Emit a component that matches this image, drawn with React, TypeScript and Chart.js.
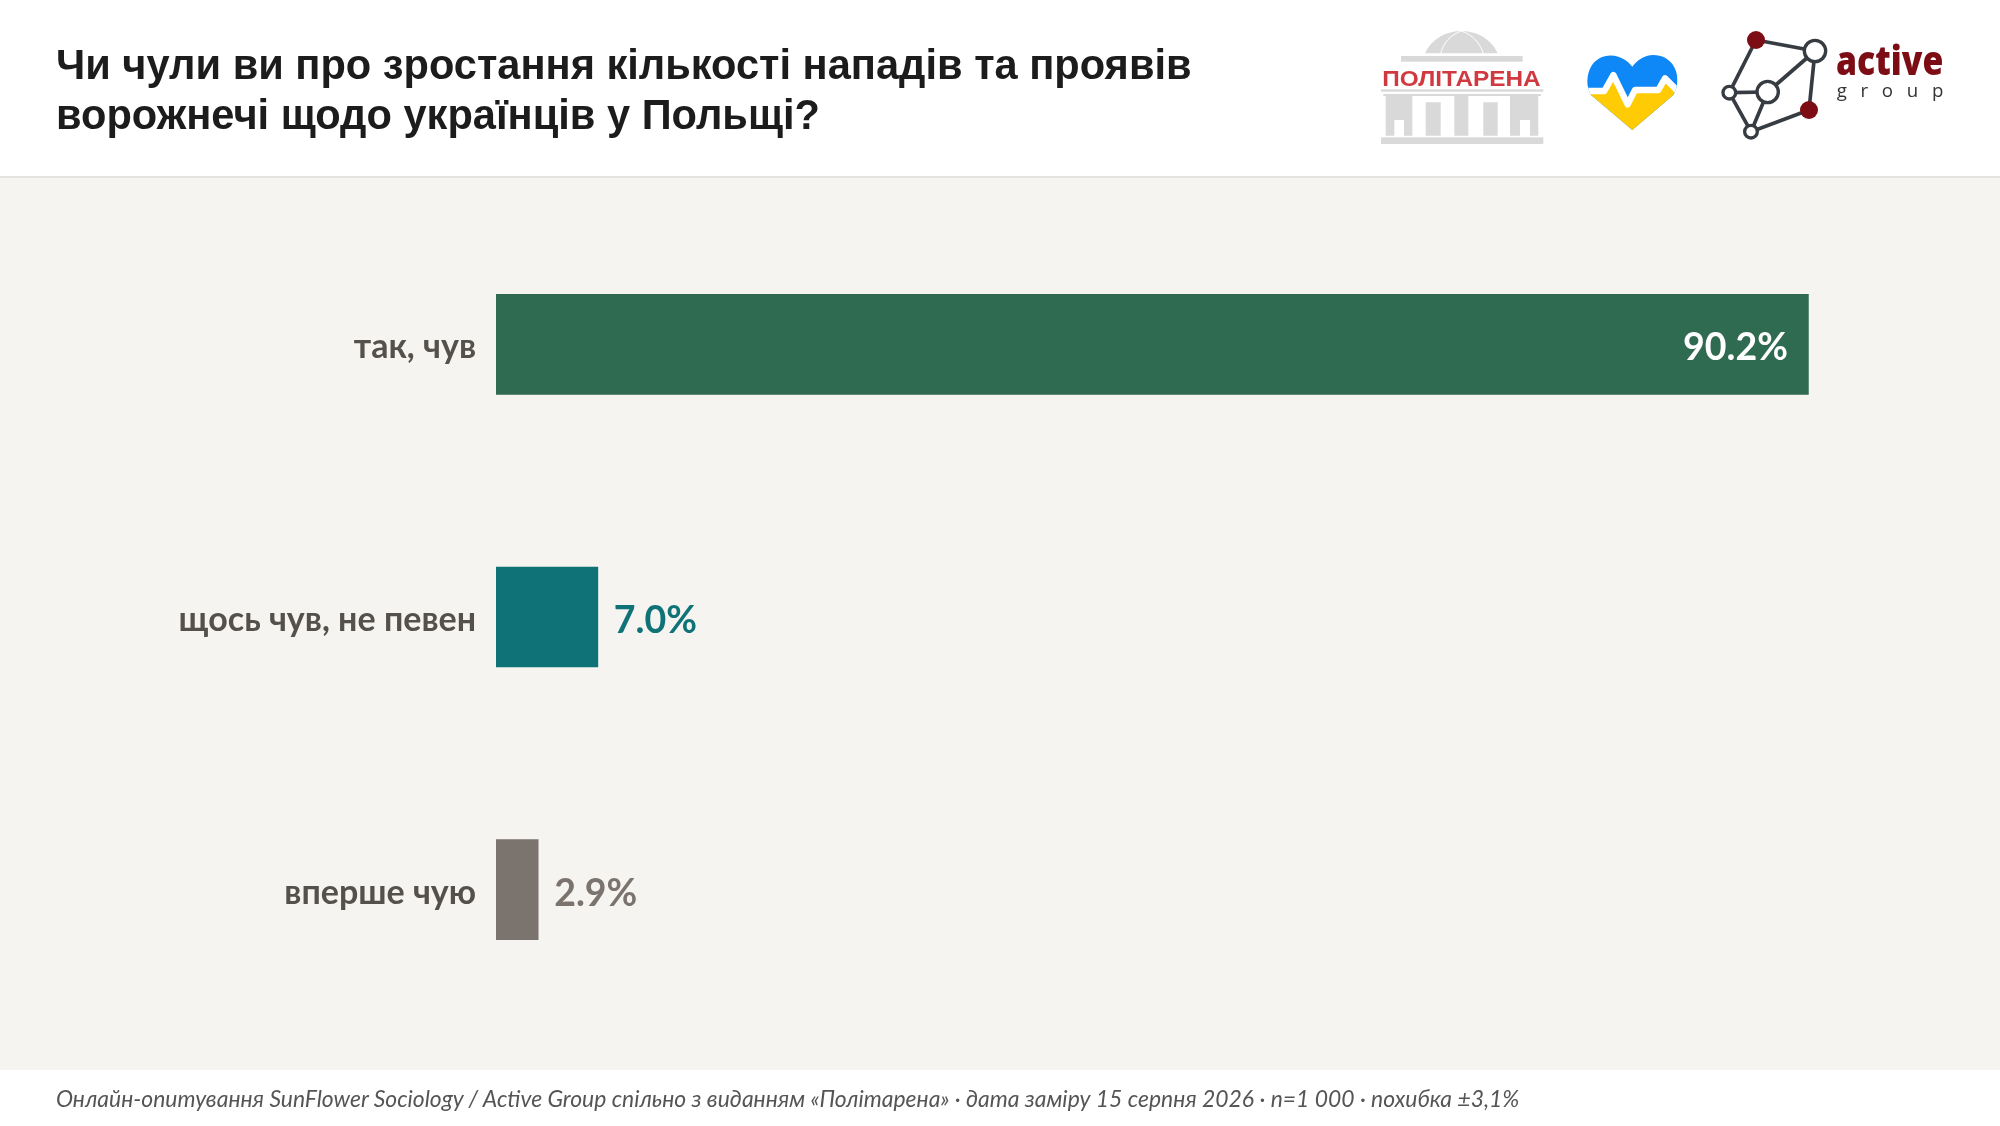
import React, { useEffect, useRef } from "react";
import { Chart, registerables } from "chart.js";

Chart.register(...registerables);

const categories = ["так, чув", "щось чув, не певен", "вперше чую"];
const values = [90.2, 7.0, 2.9];
const barColors = ["#2F6B50", "#0F7276", "#7B736D"];
const valueLabelColors = ["#FFFFFF", "#0F7276", "#7B736D"];
const titleLines = [
  "Чи чули ви про зростання кількості нападів та проявів",
  "ворожнечі щодо українців у Польщі?",
];
const footerText =
  "Онлайн-опитування SunFlower Sociology / Active Group спільно з виданням «Політарена» · дата заміру 15 серпня 2026 · n=1 000 · похибка ±3,1%";

const valueLabels = {
  id: "valueLabels",
  afterDatasetsDraw(chart: any) {
    const { ctx } = chart;
    const meta = chart.getDatasetMeta(0);
    ctx.save();
    ctx.font = 'bold 37.5px Lato, "Noto Sans", sans-serif';
    ctx.textBaseline = "middle";
    meta.data.forEach((bar: any, i: number) => {
      const text = values[i].toFixed(1) + "%";
      const inside = values[i] > 50;
      ctx.fillStyle = valueLabelColors[i];
      ctx.textAlign = inside ? "right" : "left";
      ctx.fillText(text, inside ? bar.x - 20.5 : bar.x + 16, bar.y + 4);
    });
    ctx.restore();
  },
};

function Capitol() {
  const gray = "#D9D9D9";
  return (
    <g transform="translate(1375,25) scale(0.33333)">
      <path d="M150 85 C170 40 215 18 259 18 C303 18 348 40 368 85 Z" fill={gray} />
      <path d="M197 85 C205 55 225 30 259 18 C295 30 315 55 325 85" fill="none" stroke="#fff" strokeWidth="3" />
      <rect x="78" y="93" width="365" height="17" fill={gray} />
      <rect x="18" y="193" width="487" height="7" fill={gray} />
      <rect x="25" y="207" width="473" height="6" fill={gray} />
      <path
        d="M32 212 H112 V332 H87 V285 H58 V332 H32 Z M152 232 H197 V332 H152 Z M238 212 H280 V332 H238 Z M325 232 H368 V332 H325 Z M405 212 H490 V332 H465 V285 H435 V332 H405 Z"
        fill={gray}
      />
      <rect x="18" y="337" width="487" height="20" fill={gray} />
      <text
        x="22"
        y="182"
        fontFamily='"Liberation Sans", sans-serif'
        fontWeight="700"
        fontSize="64"
        fill="#D0393F"
        textLength="475"
        lengthAdjust="spacingAndGlyphs"
      >
        ПОЛІТАРЕНА
      </text>
    </g>
  );
}

function Heart() {
  const heart = "M172 255 L48 150 C30 120 37 85 48 65 C65 35 100 25 130 35 C150 42 162 52 172 65 C182 52 195 40 215 33 C245 25 280 35 297 65 C310 88 312 120 295 150 Z";
  return (
    <g transform="translate(1575,45) scale(0.33333)">
      <clipPath id="heartClip">
        <path d={heart} />
      </clipPath>
      <g clipPath="url(#heartClip)">
        <rect x="20" y="20" width="300" height="240" fill="#0E87F7" />
        <path d="M20 140 H88 L115 90 L158 178 L180 135 H250 L270 100 L320 150 V270 H20 Z" fill="#FFCB05" />
        <path d="M20 138 H88 L115 90 L158 178 L180 135 H250 L270 100 L320 150" fill="none" stroke="#fff" strokeWidth="19" strokeLinejoin="round" />
      </g>
    </g>
  );
}

const nodes = [
  { x: 138, y: 60, r: 27, red: true },
  { x: 315, y: 93, r: 37, red: false },
  { x: 58, y: 218, r: 24, red: false },
  { x: 173, y: 216, r: 37, red: false },
  { x: 297, y: 270, r: 27, red: true },
  { x: 123, y: 335, r: 24, red: false },
];
const edges = [[0, 1], [0, 2], [2, 3], [2, 5], [3, 5], [3, 1], [1, 4], [4, 5]];

function ActiveGroup() {
  const dark = "#373C42";
  return (
    <g transform="translate(1710,20) scale(0.33333)">
      {edges.map(([a, b], i) => (
        <line key={i} x1={nodes[a].x} y1={nodes[a].y} x2={nodes[b].x} y2={nodes[b].y} stroke={dark} strokeWidth="11" />
      ))}
      {nodes.map((n, i) =>
        n.red ? (
          <circle key={i} cx={n.x} cy={n.y} r={n.r} fill="#7D0D15" />
        ) : (
          <circle key={i} cx={n.x} cy={n.y} r={n.r - 5} fill="#fff" stroke={dark} strokeWidth="10" />
        )
      )}
      <text x="378" y="166" fontFamily='"Open Sans", sans-serif' fontWeight="800" fontSize="120" fill="#7D0D15" textLength="322" lengthAdjust="spacingAndGlyphs">
        active
      </text>
      <text x="380" y="232" fontFamily='"Open Sans", sans-serif' fontSize="56" fill="#333" textLength="320" lengthAdjust="spacing">
        group
      </text>
    </g>
  );
}

export default function App() {
  const ref = useRef<HTMLCanvasElement>(null);
  useEffect(() => {
    const chart = new Chart(ref.current as HTMLCanvasElement, {
      type: "bar",
      data: {
        labels: categories,
        datasets: [
          {
            data: values,
            backgroundColor: barColors,
            barThickness: 100,
            borderWidth: 0,
          },
        ],
      },
      plugins: [valueLabels],
      options: {
        indexAxis: "y",
        animation: false,
        responsive: false,
        devicePixelRatio: 1,
        layout: { padding: { top: 208, bottom: 100, left: 0, right: 49 } },
        plugins: { legend: { display: false }, title: { display: false }, tooltip: { enabled: false } },
        scales: {
          x: { display: false, min: 0, max: 100 },
          y: {
            afterFit(scale: any) {
              scale.width = 496;
            },
            border: { display: false },
            grid: { display: false, drawTicks: false },
            ticks: {
              color: "#54504C",
              padding: 20,
              labelOffset: 3,
              font: { family: 'Lato, "Noto Sans", sans-serif', size: 34, weight: "bold" },
            },
          },
        },
      },
    } as any);
    return () => chart.destroy();
  }, []);

  return (
    <div style={{ position: "absolute", left: 0, top: 0, width: 2000, height: 1126, overflow: "hidden", background: "#fff" }}>
      <div style={{ position: "absolute", left: 0, top: 176, width: 2000, height: 2, background: "#E5E3DF" }} />
      <div style={{ position: "absolute", left: 0, top: 178, width: 2000, height: 892, background: "#F6F4F0" }} />
      <canvas ref={ref} width={2000} height={1126} style={{ position: "absolute", left: 0, top: 0, width: 2000, height: 1126 }} />
      <div
        style={{
          position: "absolute",
          left: 56,
          top: 40,
          fontFamily: '"Liberation Sans", Arial, sans-serif',
          fontWeight: 700,
          fontSize: 41.6,
          lineHeight: "50px",
          color: "#1C1C1C",
          whiteSpace: "nowrap",
        }}
      >
        {titleLines.map((l) => (
          <div key={l}>{l}</div>
        ))}
      </div>
      <svg style={{ position: "absolute", left: 0, top: 0 }} width={2000} height={178} viewBox="0 0 2000 178">
        <Capitol />
        <Heart />
        <ActiveGroup />
      </svg>
      <div
        style={{
          position: "absolute",
          left: 56,
          top: 1084,
          fontFamily: 'Lato, "Noto Sans", sans-serif',
          fontStyle: "italic",
          fontSize: 22.9,
          lineHeight: "28px",
          color: "#555",
          whiteSpace: "nowrap",
        }}
      >
        {footerText}
      </div>
    </div>
  );
}
